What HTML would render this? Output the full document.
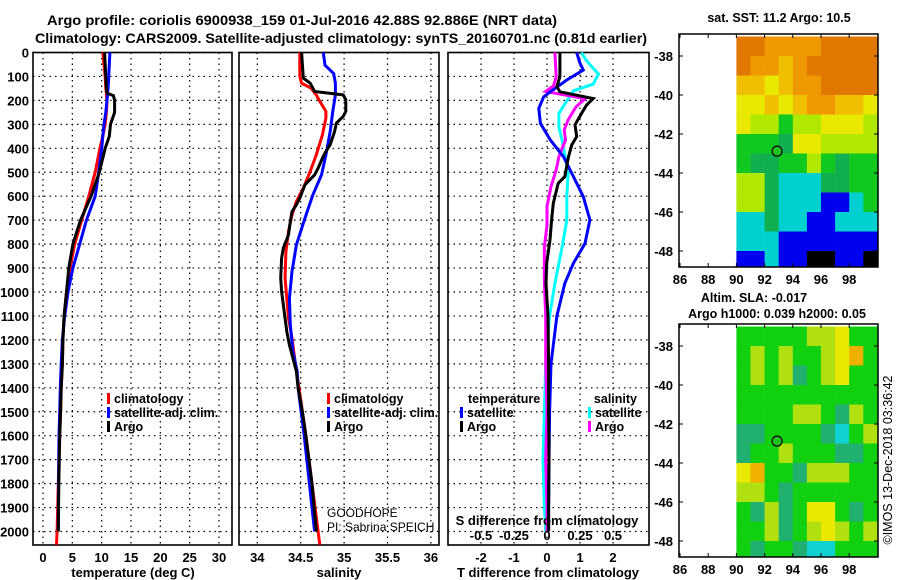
<!DOCTYPE html>
<html><head><meta charset="utf-8"><style>
html,body{margin:0;padding:0;background:#fff;}
svg{display:block;font-family:"Liberation Sans",sans-serif;}
.b{font-weight:bold;}
</style></head><body>
<svg id="fig" width="900" height="580" viewBox="0 0 900 580" xmlns="http://www.w3.org/2000/svg">
<text x="302" y="25" class="b" font-size="14" text-anchor="middle" textLength="510" lengthAdjust="spacingAndGlyphs">Argo profile: coriolis 6900938_159 01-Jul-2016 42.88S 92.886E (NRT data)</text>
<text x="341" y="43" class="b" font-size="14" text-anchor="middle" textLength="612" lengthAdjust="spacingAndGlyphs">Climatology: CARS2009. Satellite-adjusted climatology: synTS_20160701.nc (0.81d earlier)</text>
<g id="g"></g>
</svg>
<script>
// ---- depth axis ----
const depthTicks=[0,100,200,300,400,500,600,700,800,900,1000,1100,1200,1300,1400,1500,1600,1700,1800,1900,2000];
// ---- temperature panel data ----
const tDepth=[0,100,150,170,180,200,250,300,350,400,500,600,700,800,900,1000,1100,1200,1300,1400,1500,1600,1800,2000];
const tArgo=[10.5,10.7,10.8,10.9,12.0,12.2,12.2,11.5,11.3,10.6,9.6,8.2,6.4,5.1,4.4,4.0,3.6,3.4,3.3,3.1,3.0,2.85,2.7,2.6];
const tClimDepth=[0,100,150,170,180,200,250,300,350,400,500,600,700,800,900,1000,1100,1200,1300,1400,1500,1600,1800,2000,2055];
const tClim=[10.2,10.6,10.7,10.8,10.8,10.9,10.8,10.6,10.2,9.7,8.9,7.8,6.6,5.4,4.6,4.0,3.6,3.4,3.3,3.1,3.0,2.85,2.6,2.4,2.3];
const tSat=[11.4,11.2,11.1,11.0,11.0,10.9,10.7,10.4,10.2,10.0,9.5,8.9,7.4,6.25,5.1,4.26,3.7,3.3,3.1,2.95,2.84,2.73,2.65,2.6];
const tTicks=[0,5,10,15,20,25,30];
// ---- salinity panel data ----
const sArgoDepth=[0,107,128,163,177,197,246,267,295,330,385,413,441,483,511,552,608,636,664,706,761,817,859,942,998,1081,1165,1221,1276,1332,1400,1500,1600,1800,2000];
const sArgo=[34.51,34.53,34.61,34.66,34.99,35.02,35.02,34.99,34.91,34.89,34.84,34.79,34.75,34.70,34.66,34.55,34.49,34.45,34.40,34.38,34.36,34.30,34.28,34.27,34.28,34.31,34.34,34.37,34.41,34.45,34.47,34.52,34.56,34.63,34.68];
const sClimDepth=[0,100,128,149,177,197,246,274,344,427,497,566,622,678,747,831,942,1026,1109,1193,1304,1400,1600,1800,2000,2055];
const sClim=[34.49,34.49,34.51,34.62,34.68,34.71,34.79,34.79,34.75,34.68,34.61,34.53,34.45,34.40,34.36,34.33,34.32,34.34,34.36,34.40,34.44,34.48,34.56,34.63,34.70,34.72];
const sSatDepth=[0,53,88,128,177,246,330,427,511,594,691,803,914,1026,1137,1248,1332,1400,1600,1800,2000];
const sSat=[34.76,34.78,34.88,34.90,34.90,34.87,34.84,34.79,34.74,34.64,34.55,34.45,34.40,34.37,34.38,34.41,34.46,34.47,34.54,34.60,34.66];
const sTicks=[34,34.5,35,35.5,36];
// ---- difference panel data ----
const dTArgoDepth=[0,101,143,164,192,219,254,302,351,386,435,518,546,630,699,783,880,964,1100,1300,1500,1700,1900,2000];
const dTArgo=[0.39,0.39,0.30,0.39,1.40,1.20,1.05,0.85,0.90,0.75,0.65,0.54,0.34,0.19,0.14,0.09,-0.01,-0.03,0.03,0.05,0.05,0.06,0.05,0.05];
const dTSatDepth=[0,45,73,115,164,185,233,296,365,435,518,602,699,797,880,964,1100,1300,1500,1700,1900,2000];
const dTSat=[0.9,1.0,1.1,0.6,0.1,-0.1,-0.25,-0.2,0.1,0.5,0.8,1.1,1.3,1.15,0.8,0.54,0.3,0.12,0.08,0.06,0.05,0.05];
const dSArgoDepth=[0,101,139,162,174,192,227,282,323,365,435,490,560,643,720,811,964,1100,1300,1500,1700,1900,2000];
const dSArgo=[0.06,0.07,0.05,-0.01,0.10,0.29,0.22,0.16,0.13,0.14,0.09,0.07,0.03,0.0,0.0,-0.02,-0.02,-0.01,-0.01,0.0,-0.01,0.0,0.0];
const dSSatDepth=[0,35,90,132,160,202,254,310,380,505,602,699,797,880,964,1100,1300,1500,1700,1900,2000];
const dSSat=[0.26,0.30,0.39,0.35,0.20,0.15,0.09,0.09,0.12,0.16,0.15,0.15,0.12,0.09,0.06,0.02,-0.01,-0.02,-0.03,-0.02,-0.01];
const dTTicks=[-2,-1,0,1,2];
const dSTicks=[-0.5,-0.25,0,0.25,0.5];
const dSTickLabels=["-0.5","-0.25","0","0.25","0.5"];
// ---- map data (colour class grids, rows = lat -37..-49, cols = lon 90..100) ----
const mapLatTicks=[-38,-40,-42,-44,-46,-48];
const mapLonTicks=[86,88,90,92,94,96,98];
const sstGrid=["OOooooOOOO","OooYoOOOOO","YYyYooOOOO","yyYyYooYYy","yllgllyyyl","gggGyyllll","gGGgglgGgg","llGcccGGgg","llGcccbbcg","ccGccbbccc","cccbbbbbbb","bbcbbkkbbk"];
const slaGrid=["ggggglligg","glglggliYg","glgltglygg","gggggggggg","ggggllgtlg","ttggggtcgl","tgglgggttg","yYggtlllgg","llgtgggggg","gtltgyygtg","ggltglylgl","gtggtccggg"];
const floatLon=92.886, floatLat=-42.88;

const NS="http://www.w3.org/2000/svg";
const G=document.getElementById('g');
function mk(tag,attrs,parent){const e=document.createElementNS(NS,tag);for(const k in attrs)e.setAttribute(k,attrs[k]);(parent||G).appendChild(e);return e;}
const yTop=52.5,yBot=545;
function yD(d){return yTop+0.2395*d;}
function xT(t){return 43+5.867*t;}
function xS(s){return 257.3+86.8*(s-34);}
function xdT(t){return 547+33*t;}
function xdS(s){return 547+132*s;}

function panel(name,x0,x1,vTicks,xf){
  const g=mk('g',{});
  
  
  depthTicks.forEach(d=>{const l=mk('line',{x1:x0,x2:x1,y1:yD(d),y2:yD(d),stroke:'#000','stroke-width':1.2,'stroke-dasharray':'1.5,4'},g);
    
    });
  vTicks.forEach(v=>{const l=mk('line',{x1:xf(v),x2:xf(v),y1:yTop,y2:yBot,stroke:'#000','stroke-width':1.2,'stroke-dasharray':'1.5,4'},g);
    
    });
  const r=mk('rect',{x:x0,y:yTop,width:x1-x0,height:yBot-yTop,fill:'none',stroke:'#000','stroke-width':1.6},g);
  
  
  return g;
}
function series(g,name,depths,vals,xf,color){
  const pts=depths.map((d,i)=>xf(vals[i]).toFixed(1)+','+yD(d).toFixed(1)).join(' ');
  const p=mk('polyline',{points:pts,fill:'none',stroke:color,'stroke-width':3,'stroke-linejoin':'miter'},g);
  
  
}
function txt(s,x,y,attrs,name){const t=mk('text',Object.assign({x:x,y:y},attrs||{}));t.textContent=s;
  
  
  return t;}

depthTicks.forEach(d=>{txt(String(d),29,yD(d)+5,{'font-size':13,'font-weight':'bold','text-anchor':'end'},'depth-tick-label');});

const p1=panel('temperature-panel',33,232,tTicks,xT);
series(p1,'temperature-climatology-line',tClimDepth,tClim,xT,'#ff0000');
series(p1,'temperature-satellite-line',tDepth,tSat,xT,'#0000ff');
series(p1,'temperature-argo-line',tDepth,tArgo,xT,'#000000');
tTicks.forEach(v=>txt(String(v),xT(v),562,{'font-size':13,'font-weight':'bold','text-anchor':'middle'},'temperature-tick-label'));
txt('temperature (deg C)',133,577,{'font-size':13,'font-weight':'bold','text-anchor':'middle'},'temperature-axis-title');

const p2=panel('salinity-panel',239,439,sTicks,xS);
series(p2,'salinity-climatology-line',sClimDepth,sClim,xS,'#ff0000');
series(p2,'salinity-satellite-line',sSatDepth,sSat,xS,'#0000ff');
series(p2,'salinity-argo-line',sArgoDepth,sArgo,xS,'#000000');
sTicks.forEach(v=>txt(String(v),xS(v),562,{'font-size':13,'font-weight':'bold','text-anchor':'middle'},'salinity-tick-label'));
txt('salinity',339,577,{'font-size':13,'font-weight':'bold','text-anchor':'middle'},'salinity-axis-title');
txt('GOODHOPE',327,517,{'font-size':12},'project-label');
txt('PI: Sabrina SPEICH',327,531,{'font-size':12},'pi-label');

const p3=panel('difference-panel',448,649,dTTicks,xdT);
series(p3,'salinity-diff-satellite-line',dSSatDepth,dSSat,xdS,'#00ffff');
series(p3,'salinity-diff-argo-line',dSArgoDepth,dSArgo,xdS,'#ff00ff');
series(p3,'temperature-diff-satellite-line',dTSatDepth,dTSat,xdT,'#0000ff');
series(p3,'temperature-diff-argo-line',dTArgoDepth,dTArgo,xdT,'#000000');
dTTicks.forEach(v=>txt(String(v),xdT(v),562,{'font-size':13,'font-weight':'bold','text-anchor':'middle'},'t-diff-tick-label'));
txt('T difference from climatology',548,577,{'font-size':13,'font-weight':'bold','text-anchor':'middle'},'t-diff-axis-title');
dSTicks.forEach((v,i)=>txt(dSTickLabels[i],xdS(v),540,{'font-size':13,'font-weight':'bold','text-anchor':'middle'},'s-diff-tick-label'));
txt('S difference from climatology',547,525,{'font-size':13,'font-weight':'bold','text-anchor':'middle'},'s-diff-axis-title');

function legItem(x,y,color,label,name){
  const g=mk('g',{});
  
  
  mk('rect',{x:x,y:y-10,width:3,height:11,fill:color},g);
  const t=mk('text',{x:x+7,y:y,'font-size':12.5,'font-weight':'bold'},g);t.textContent=label;
}
legItem(107,403,'#ff0000','climatology','legend-climatology');
legItem(107,417,'#0000ff','satellite-adj. clim.','legend-satellite');
legItem(107,431,'#000000','Argo','legend-argo');
legItem(327,403,'#ff0000','climatology','legend-climatology-2');
legItem(327,417,'#0000ff','satellite-adj. clim.','legend-satellite-2');
legItem(327,431,'#000000','Argo','legend-argo-2');
txt('temperature',468,403,{'font-size':12.5,'font-weight':'bold'},'legend-temperature-heading');
legItem(460,417,'#0000ff','satellite','legend-t-satellite');
legItem(460,431,'#000000','Argo','legend-t-argo');
txt('salinity',637,403,{'font-size':12.5,'font-weight':'bold','text-anchor':'end'},'legend-salinity-heading');
legItem(588,417,'#00ffff','satellite','legend-s-satellite');
legItem(588,431,'#ff00ff','Argo','legend-s-argo');

const colMap={O:'#e07800',o:'#f09800',Y:'#f0c000',y:'#e8e800',l:'#b0e800',g:'#10c820',G:'#10b050',c:'#00d0d0',b:'#0000f0',k:'#000000',t:'#20b070'};
const slaCol={g:'#10d010',l:'#b0e010',i:'#e8e800',Y:'#f0b000',y:'#e8e800',t:'#20b070',c:'#10d0d0'};
function mapPanel(name,y0,grid,cols){
  const g=mk('g',{});
  
  
  const x0=679,x1=878,y1=y0+233;
  const lx=lon=>680+(lon-86)*14.1;
  const ly=lat=>y0+22+(-38-lat)*19.5;
  mk('rect',{x:x0,y:y0,width:x1-x0,height:y1-y0,fill:'#fff'},g);
  grid.forEach((row,r)=>{for(let c=0;c<10;c++){const ch=row[c]||'g';
    const xa=lx(90+c),xb=Math.min(lx(91+c),x1);
    const ya=Math.max(ly(-37-r),y0),yb=Math.min(ly(-38-r),y1);
    if(xb>xa&&yb>ya){const cell=mk('rect',{x:xa,y:ya,width:xb-xa+0.3,height:yb-ya+0.3,fill:cols[ch]||'#10c820'},g);
      
      }}});
  mk('rect',{x:x0,y:y0,width:x1-x0,height:y1-y0,fill:'none',stroke:'#000','stroke-width':1.5},g);
  mapLatTicks.forEach(l=>{mk('line',{x1:x0,x2:x0+4,y1:ly(l),y2:ly(l),stroke:'#000'},g);mk('line',{x1:x1-4,x2:x1,y1:ly(l),y2:ly(l),stroke:'#000'},g);
    const t=mk('text',{x:673,y:ly(l)+5,'font-size':13,'font-weight':'bold','text-anchor':'end'},g);t.textContent=String(l);});
  mapLonTicks.forEach(l=>{mk('line',{x1:lx(l),x2:lx(l),y1:y1,y2:y1-4,stroke:'#000'},g);mk('line',{x1:lx(l),x2:lx(l),y1:y0,y2:y0+4,stroke:'#000'},g);
    const t=mk('text',{x:lx(l),y:y1+17,'font-size':13,'font-weight':'bold','text-anchor':'middle'},g);t.textContent=String(l);});
  const m=mk('circle',{cx:lx(floatLon),cy:ly(floatLat),r:5,fill:'#20c020',stroke:'#000','stroke-width':1.2},g);
  
  
}
mapPanel('sst-map',34,sstGrid,colMap);
mapPanel('sla-map',324,slaGrid,slaCol);
txt('sat. SST: 11.2 Argo: 10.5',779,22,{'font-size':12.5,'font-weight':'bold','text-anchor':'middle'},'sst-map-title');
txt('Altim. SLA: -0.017',754,302,{'font-size':12.5,'font-weight':'bold','text-anchor':'middle'},'sla-map-title');
txt('Argo h1000: 0.039 h2000: 0.05',777,318,{'font-size':12.5,'font-weight':'bold','text-anchor':'middle'},'argo-height-title');
txt('©IMOS 13-Dec-2018 03:36:42',0,0,{'font-size':12.5,'text-anchor':'middle',transform:'translate(892,460) rotate(-90)'},'imos-credit');
</script>
</body></html>
